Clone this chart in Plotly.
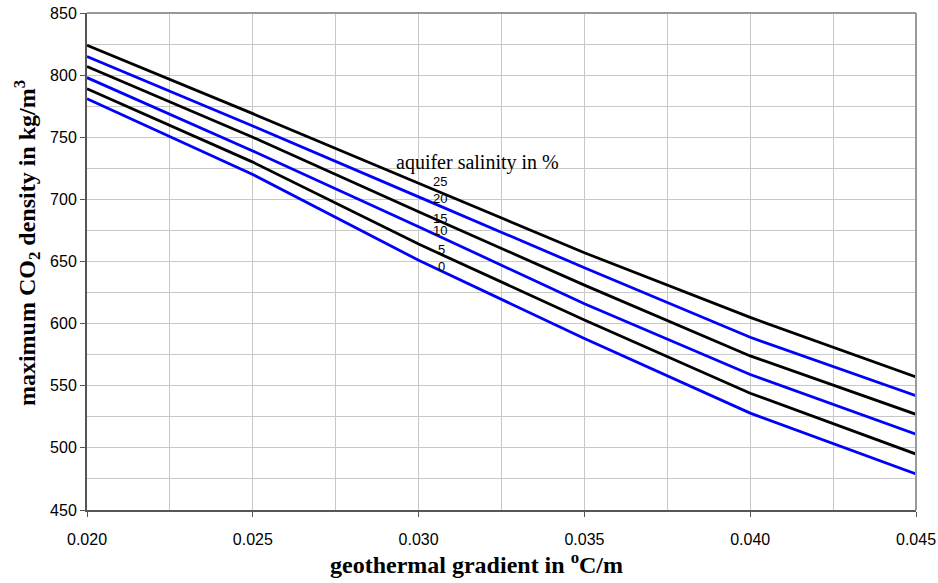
import plotly.graph_objects as go

gradient = [0.020, 0.025, 0.030, 0.035, 0.040, 0.045]
salinity_labels = ["25", "20", "15", "10", "5", "0"]
dens_25 = [824, 769, 713, 657, 605, 557]
dens_20 = [815, 759, 702, 645, 589, 542]
dens_15 = [807, 750, 690, 631, 574, 527]
dens_10 = [798, 739, 678, 616, 559, 511]
dens_5 = [789, 730, 664, 603, 544, 495]
dens_0 = [781, 720, 651, 588, 528, 479]
series = [dens_25, dens_20, dens_15, dens_10, dens_5, dens_0]
colors = ["#000000", "#0000ff", "#000000", "#0000ff", "#000000", "#0000ff"]

# label anchor positions (data coords) for the salinity numbers
label_x = [0.03065, 0.03065, 0.03065, 0.03065, 0.0307, 0.0307]
label_y = [714, 700.4, 685, 674.6, 660, 645.6]

fig = go.Figure()
for s, c, name in zip(series, colors, salinity_labels):
    fig.add_trace(go.Scatter(x=gradient, y=s, mode="lines", name=name,
                             line=dict(color=c, width=2.8), showlegend=False))

W, H = 938, 583
fig.update_layout(
    width=W, height=H,
    margin=dict(l=87, r=22, t=13, b=73),
    paper_bgcolor="white", plot_bgcolor="white",
    font=dict(family="Liberation Sans, Arial", size=16, color="black"),
)
fig.update_xaxes(range=[0.020, 0.045], tickvals=[0.020, 0.025, 0.030, 0.035, 0.040, 0.045],
                 ticktext=["0.020", "0.025", "0.030", "0.035", "0.040", "0.045"],
                 showgrid=True, gridcolor="#c8c8c8", gridwidth=1,
                 minor=dict(dtick=0.0025, tick0=0.020, showgrid=True, gridcolor="#c8c8c8", gridwidth=1),
                 showline=True, linecolor="#555555", linewidth=2, automargin=False,
                 ticks="outside", ticklen=5, tickcolor="#555555", zeroline=False,
                 ticklabelstandoff=9)
fig.update_yaxes(range=[450, 850], tickvals=[450, 500, 550, 600, 650, 700, 750, 800, 850],
                 showgrid=True, gridcolor="#c8c8c8", gridwidth=1,
                 minor=dict(dtick=25, tick0=450, showgrid=True, gridcolor="#c8c8c8", gridwidth=1),
                 showline=True, linecolor="#555555", linewidth=2, automargin=False,
                 ticks="outside", ticklen=5, tickcolor="#555555", zeroline=False)

# frame top/right
fig.add_shape(type="line", xref="paper", yref="paper", x0=0, x1=1, y0=1, y1=1,
              line=dict(color="#999999", width=2))
fig.add_shape(type="line", xref="paper", yref="paper", x0=1, x1=1, y0=0, y1=1,
              line=dict(color="#999999", width=2))

serif = "Liberation Serif, Times New Roman, serif"
fig.add_annotation(text="<b>geothermal gradient in <sup>o</sup>C/m</b>", xref="paper", yref="paper",
                   x=0.4704, y=-0.107, xanchor="center", yanchor="middle", showarrow=False,
                   font=dict(family=serif, size=24, color="black"))
fig.add_annotation(text="<b>maximum CO<sub>2</sub> density in kg/m<sup>3</sup></b>", xref="paper", yref="paper",
                   x=-0.0724, y=0.537, xanchor="center", yanchor="middle", textangle=-90, showarrow=False,
                   font=dict(family=serif, size=24, color="black"))
fig.add_annotation(text="aquifer salinity in %", x=0.03179, y=730, xanchor="center", yanchor="middle",
                   showarrow=False, font=dict(family=serif, size=20, color="black"))
for t, lx, ly in zip(salinity_labels, label_x, label_y):
    fig.add_annotation(text=t, x=lx, y=ly, xanchor="center", yanchor="middle", showarrow=False,
                       font=dict(family="Liberation Sans, Arial", size=13, color="black"))

fig.write_html("out.html")
